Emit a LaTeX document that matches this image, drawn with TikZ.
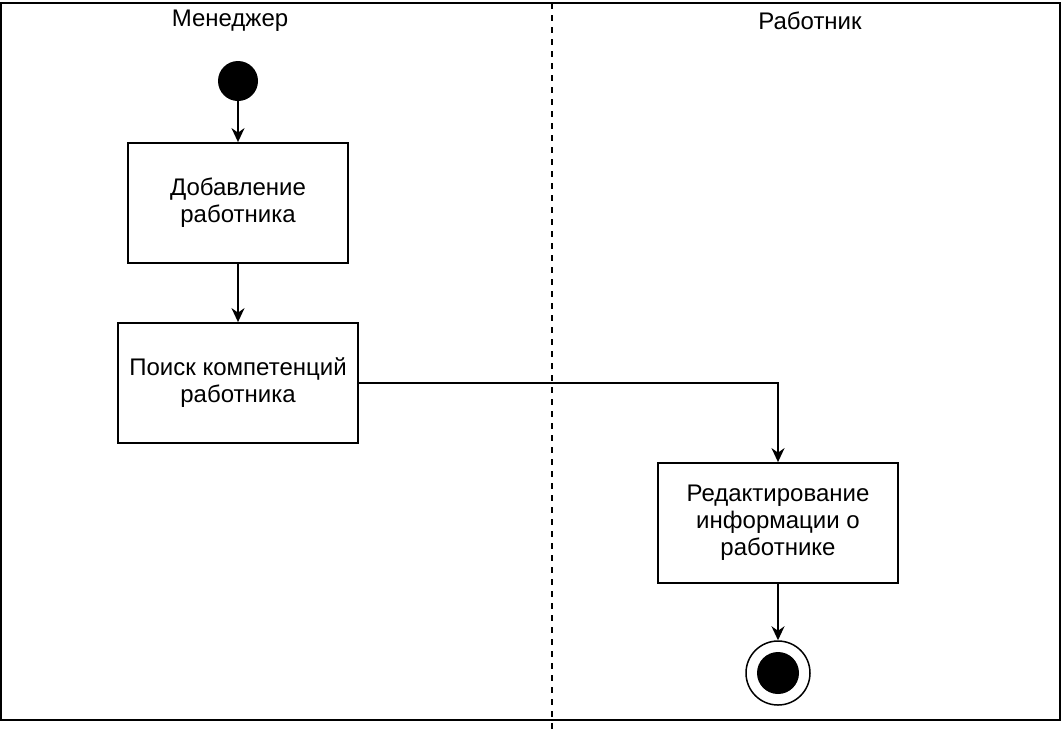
\documentclass[tikz,border=0pt]{standalone}
\usepackage{fontspec}
\setmainfont{Liberation Sans}
\usetikzlibrary{arrows.meta}
\tikzstyle{action} = [rectangle, minimum width=240pt, minimum height=120pt, text centered, align=center, draw=black, fill=white, line width=1.8pt, font=\fontsize{24}{27}\selectfont]
\tikzstyle{lane} = [font=\fontsize{24}{27}\selectfont]
\tikzstyle{initial} = [circle, fill=black, minimum size=40pt, inner sep=0pt]
\tikzstyle{final} = [circle, draw=black, line width=1.5pt, minimum size=64pt, inner sep=0pt, path picture={\fill[black] (path picture bounding box.center) circle (21pt);}]
\tikzstyle{flow} = [line width=1.8pt,->,>={Stealth[length=14pt,width=13pt]}]
\tikzstyle{divider} = [line width=1.8pt, dash pattern=on 6pt off 6pt]

\begin{document}
\begin{tikzpicture}[x=1pt, y=-1pt, node distance=180pt]
		\useasboundingbox (0,0) rectangle (1062,732);
		\draw[line width=1.8pt] (1,3) rectangle (1060,720);
		\draw[divider] (552,3) -- (552,730);
		\node (man) at (230,21) [lane] {Менеджер};
		\node (wrk) at (810,21) [lane] {Работник};
		\node (start) at (238,81) [initial] {};
		\node (add) [action, below of=start, node distance=122pt, minimum width=220pt] {Добавление\\работника};
		\node (find) [action, below of=add] {Поиск компетенций\\работника};
		\node (edit) [action, below of=find, node distance=140pt, xshift=540pt] {Редактирование\\информации о\\работнике};
		\node (end) [final, below of=edit, node distance=150pt] {};

		\draw [flow] (start) -- (add);
		\draw [flow] (add) -- (find);
		\draw [flow] (find.east) -| (edit.north);
		\draw [flow] (edit) -- (end);
	  \end{tikzpicture}
\end{document}
